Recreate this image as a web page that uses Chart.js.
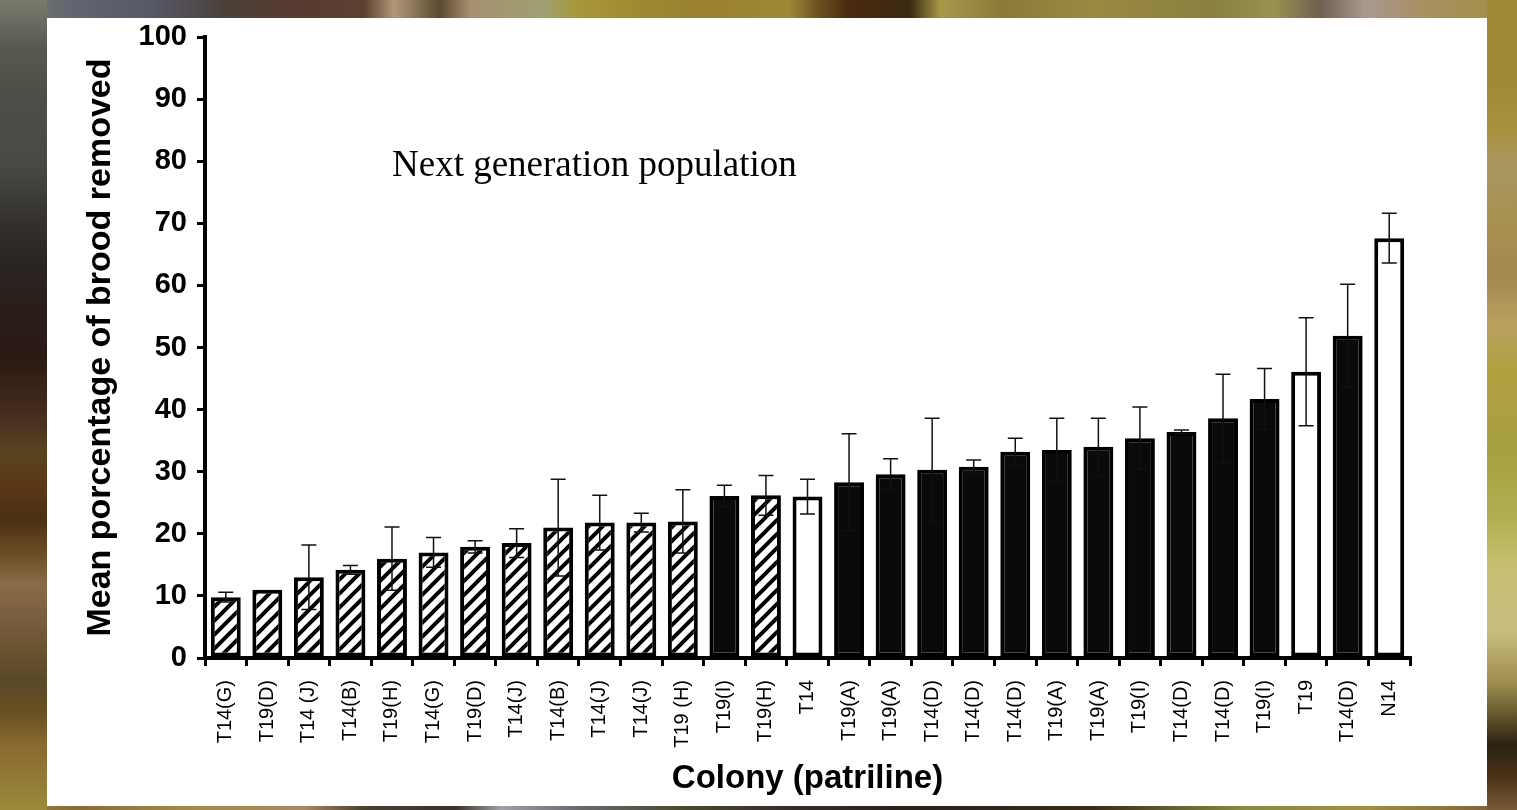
<!DOCTYPE html>
<html>
<head>
<meta charset="utf-8">
<title>Mean percentage of brood removed by colony</title>
<script src="https://cdn.jsdelivr.net/npm/chart.js@4.4.1/dist/chart.umd.min.js"></script>
<style>
  html, body { margin: 0; padding: 0; }
  body { width: 1517px; height: 810px; position: relative; overflow: hidden; background: #6a5a30; }
  .edge { position: absolute; }
  #edgeTop { left: 0; top: 0; width: 1517px; height: 18px;
    background: linear-gradient(to right, #7c7c70 0%, #626470 5%, #585868 10%, #4a4038 15%, #5a3a30 20%, #5e4030 24%, #b09878 26%, #5a4a30 29%, #a89070 31%, #a0a070 36%, #a89838 38%, #a08a30 42%, #9a8030 46%, #a08838 52%, #6a5020 54%, #4a2a10 56%, #3a2a10 60%, #a89848 62%, #8a7a3a 66%, #9a8a40 72%, #8a8040 80%, #9a9050 84%, #706050 87%, #a89890 90%, #a89060 94%, #a09040 100%); }
  #edgeBottom { left: 0; top: 806px; width: 1517px; height: 4px;
    background: linear-gradient(to right, #9a8a3a 0%, #8a6a38 5%, #a08a48 12%, #a88a60 20%, #4a4030 24%, #3a3028 30%, #a0a0a8 33%, #6a6a70 38%, #4a4a30 45%, #3a2a28 52%, #2a2018 60%, #3a2a18 72%, #8a8a40 82%, #a09040 90%, #7a5a38 100%); }
  #edgeLeft { left: 0; top: 0; width: 47px; height: 810px;
    background: linear-gradient(to bottom, #7a7a6e 0%, #58584f 6%, #4e4e48 12%, #4a4a45 20%, #383632 26%, #2a2622 32%, #2a1e1a 38%, #2a1a14 44%, #3a2418 48%, #4a3020 52%, #5a4420 56%, #5a3818 60%, #4a3010 64%, #6a4a20 68%, #8a6a48 72%, #7a6040 76%, #6a5430 80%, #5a4828 84%, #6a5020 88%, #8a6a30 92%, #9a8a3a 100%); }
  #edgeRight { left: 1487px; top: 0; width: 30px; height: 810px;
    background: linear-gradient(to bottom, #a08a38 0%, #a08a35 10%, #a89040 16%, #a89860 20%, #a89050 28%, #a48850 34%, #b8a060 40%, #b0a040 46%, #a8a040 56%, #b0b050 64%, #c8c070 70%, #c8bc80 78%, #a09050 84%, #6a5a30 88%, #2a2210 92%, #4a3418 96%, #7a5a38 100%); }
  #panel { position: absolute; left: 47px; top: 18px; width: 1440px; height: 788px; background: #fff; }
</style>
</head>
<body>
<div class="edge" id="edgeTop"></div>
<div class="edge" id="edgeBottom"></div>
<div class="edge" id="edgeLeft"></div>
<div class="edge" id="edgeRight"></div>
<div id="panel"><canvas id="broodChart" width="1440" height="788"></canvas></div>

<script>
// colonies (patrilines), in the order shown
const colonies = ['T14(G)', 'T19(D)', 'T14 (J)', 'T14(B)', 'T19(H)', 'T14(G)', 'T19(D)', 'T14(J)',
    'T14(B)', 'T14(J)', 'T14(J)', 'T19 (H)', 'T19(I)', 'T19(H)', 'T14', 'T19(A)', 'T19(A)',
    'T14(D)', 'T14(D)', 'T14(D)', 'T19(A)', 'T19(A)', 'T19(I)', 'T14(D)', 'T14(D)', 'T19(I)',
    'T19', 'T14(D)', 'N14'];

// mean percentage of brood removed
const meanRemoved = [9.8, 11.0, 13.0, 14.2, 16.0, 17.0, 17.9, 18.5, 21.0, 21.8, 21.8, 22.0,
    26.1, 26.2, 26.0, 28.3, 29.6, 30.3, 30.8, 33.2, 33.5, 34.0, 35.4, 36.4, 38.6, 41.7,
    46.1, 51.9, 67.6];

// error bar (+/-)
const errorBar = [0.8, 0, 5.2, 0.7, 5.1, 2.4, 1.0, 2.3, 7.8, 4.4, 1.5, 5.1,
    1.7, 3.2, 2.8, 7.8, 2.5, 8.3, 1.1, 2.2, 5.1, 4.6, 5.0, 0.3, 7.1, 4.9,
    8.7, 8.3, 4.0];

// bar fill kind: h = hatched, s = solid, o = open
const barKind = ['h', 'h', 'h', 'h', 'h', 'h', 'h', 'h', 'h', 'h', 'h', 'h',
    's', 'h', 'o', 's', 's', 's', 's', 's', 's', 's', 's', 's', 's', 's',
    'o', 's', 'o'];

const yTicks = [0, 10, 20, 30, 40, 50, 60, 70, 80, 90, 100];

const noteText = 'Next generation population';
const noteAt = { index: 4, value: 77.6 };

function makeHatch() {
    const c = document.createElement('canvas');
    c.width = 14;
    c.height = 14;
    const g = c.getContext('2d');
    g.fillStyle = '#fff';
    g.fillRect(0, 0, 14, 14);
    g.strokeStyle = '#000';
    g.lineWidth = 4;
    g.beginPath();
    g.moveTo(0, 14); g.lineTo(14, 0);
    g.moveTo(-7, 7); g.lineTo(7, -7);
    g.moveTo(7, 21); g.lineTo(21, 7);
    g.stroke();
    return g.createPattern(c, 'repeat');
}

const hatch = makeHatch();
const fills = barKind.map(function (k) {
    if (k === 'h') return hatch;
    if (k === 's') return '#0a0a0a';
    return '#ffffff';
});

// draws the error bars and the text note
const extras = {
    id: 'extras',
    afterDatasetsDraw: function (chart) {
        const ctx = chart.ctx;
        const yScale = chart.scales.y;
        const xScale = chart.scales.x;
        const meta = chart.getDatasetMeta(0);

        ctx.save();
        ctx.strokeStyle = '#111';
        ctx.lineWidth = 1.5;
        for (let i = 0; i < meanRemoved.length; i++) {
            if (!errorBar[i]) continue;
            const x = meta.data[i].x;
            const yHi = yScale.getPixelForValue(meanRemoved[i] + errorBar[i]);
            const yLo = yScale.getPixelForValue(meanRemoved[i] - errorBar[i]);
            ctx.beginPath();
            ctx.moveTo(x, yHi); ctx.lineTo(x, yLo);
            ctx.moveTo(x - 7.5, yHi); ctx.lineTo(x + 7.5, yHi);
            ctx.moveTo(x - 7.5, yLo); ctx.lineTo(x + 7.5, yLo);
            ctx.stroke();
        }

        ctx.fillStyle = '#000';
        ctx.font = '37px "Liberation Serif", "Times New Roman", serif';
        ctx.textAlign = 'left';
        ctx.textBaseline = 'alphabetic';
        ctx.fillText(noteText, xScale.getPixelForValue(noteAt.index), yScale.getPixelForValue(noteAt.value));
        ctx.restore();
    }
};

const sans = '"Liberation Sans", Arial, sans-serif';

new Chart(document.getElementById('broodChart'), {
    type: 'bar',
    data: {
        labels: colonies,
        datasets: [{
            data: meanRemoved,
            backgroundColor: fills,
            borderColor: '#000',
            borderWidth: 4,
            borderSkipped: false,
            barPercentage: 0.72,
            categoryPercentage: 1
        }]
    },
    options: {
        responsive: false,
        animation: false,
        layout: { padding: { left: 29, top: 19, right: 77, bottom: 5 } },
        plugins: {
            legend: { display: false },
            tooltip: { enabled: false }
        },
        scales: {
            x: {
                afterFit: function (scale) { scale.height = 143; },
                grid: { drawOnChartArea: false, offset: true, tickLength: 8, color: '#000', lineWidth: 3 },
                border: { color: '#000', width: 4 },
                ticks: {
                    color: '#000',
                    font: { family: sans, size: 20 },
                    minRotation: 90,
                    maxRotation: 90,
                    autoSkip: false,
                    padding: 14
                },
                title: {
                    display: true,
                    text: 'Colony (patriline)',
                    color: '#000',
                    font: { family: sans, size: 33, weight: 'bold' },
                    padding: { top: 4, bottom: 2 }
                }
            },
            y: {
                min: 0,
                max: 100,
                afterFit: function (scale) {
                    scale.width = 129;
                    scale.paddingTop = 0;
                    scale.paddingBottom = 0;
                },
                afterBuildTicks: function (scale) {
                    scale.ticks = yTicks.map(function (v) { return { value: v }; });
                },
                grid: { drawOnChartArea: false, tickLength: 8, color: '#000', lineWidth: 3 },
                border: { color: '#000', width: 4 },
                ticks: {
                    color: '#000',
                    font: { family: sans, size: 29, weight: 'bold' },
                    padding: 10
                },
                title: {
                    display: true,
                    text: 'Mean porcentage of brood removed',
                    color: '#000',
                    font: { family: sans, size: 34, weight: 'bold' },
                    padding: { top: 4, bottom: 4 }
                }
            }
        }
    },
    plugins: [extras]
});
</script>
</body>
</html>
